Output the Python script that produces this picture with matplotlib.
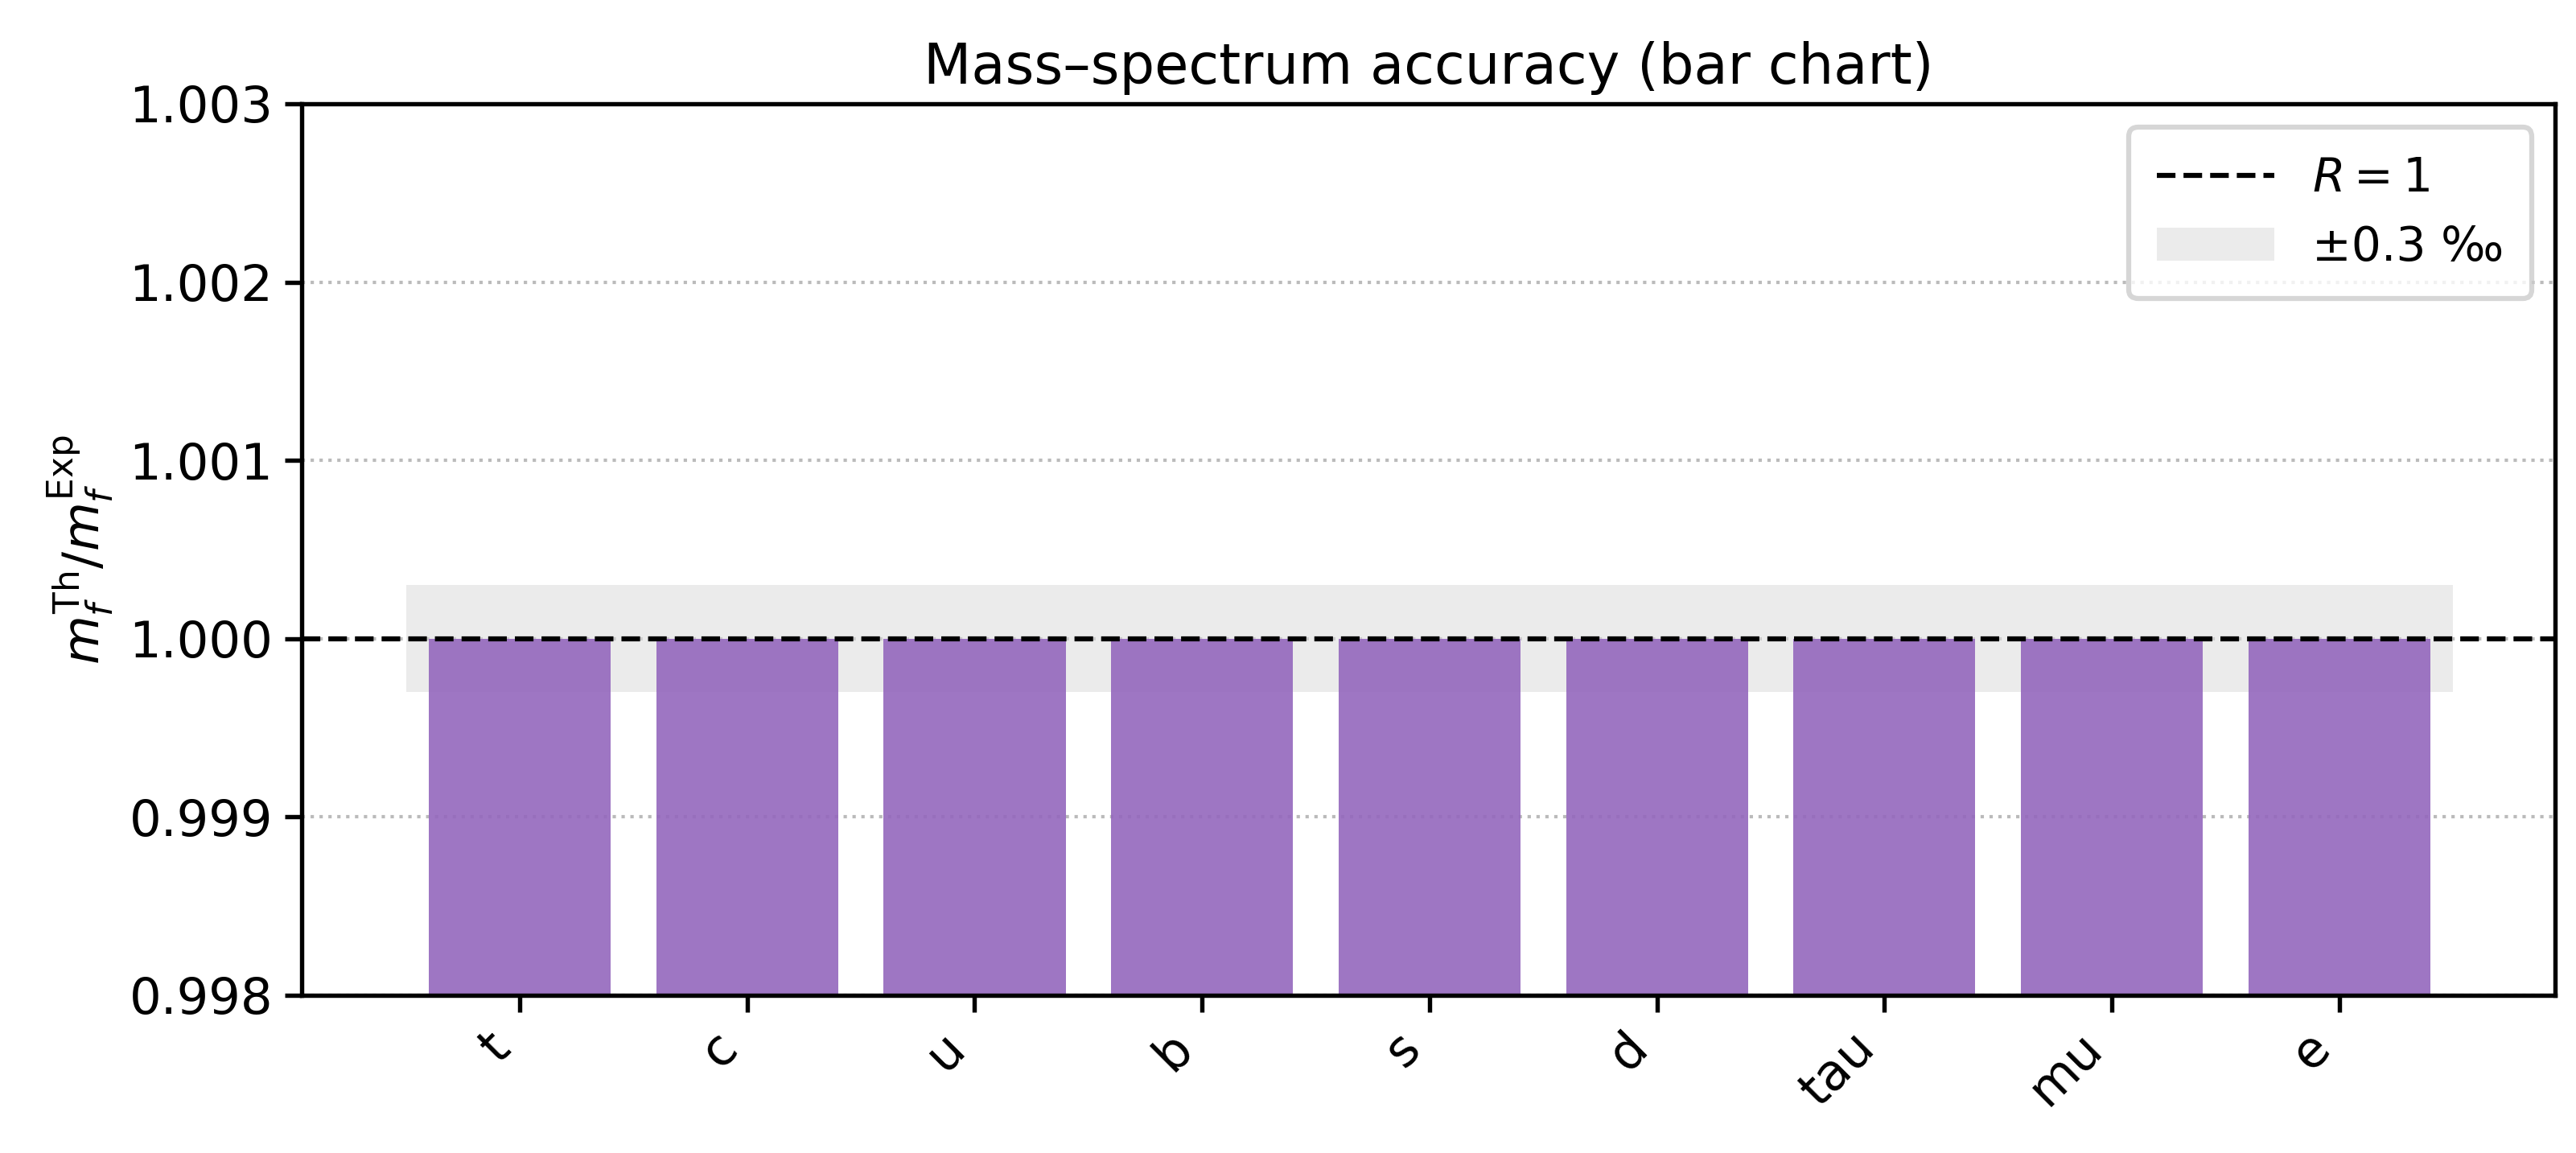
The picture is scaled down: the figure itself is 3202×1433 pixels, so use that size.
import matplotlib
matplotlib.use("Agg")
import matplotlib.pyplot as plt

categories = ["t", "c", "u", "b", "s", "d", "tau", "mu", "e"]
ratios = [1.0000, 1.0000, 1.0000, 1.0000, 1.0000, 1.0000, 1.0000, 1.0000, 1.0000]
tol = 0.0003

fig = plt.figure(figsize=(3202/300, 1433/300), dpi=300)
ax = fig.add_axes([0.117, 0.137, 0.875, 0.773])
x = list(range(len(categories)))
ax.axhline(1.0, color="black", ls="--", lw=1.5, label="$R = 1$", zorder=3)
ax.fill_between([-0.5, len(categories)-0.5], 1-tol, 1+tol, color="#d9d9d9", alpha=0.5, lw=0, label="±0.3 ‰", zorder=1)
ax.bar(x, ratios, width=0.8, color="#9467bd", alpha=0.9, zorder=2)
ax.set_ylim(0.998, 1.003)
ax.set_xlim(-0.96, 8.95)
ax.set_yticks([0.998, 0.999, 1.000, 1.001, 1.002, 1.003])
ax.set_yticklabels(["0.998", "0.999", "1.000", "1.001", "1.002", "1.003"])
ax.yaxis.grid(True, ls=":", color="#bbbbbb", lw=1.0)
ax.set_axisbelow(True)
for s in ax.spines.values():
    s.set_linewidth(1.3)
ax.tick_params(width=1.3, length=5)
ax.set_xticks(x)
ax.set_xticklabels(categories, rotation=45, ha="right", fontsize=15)
ax.tick_params(axis="y", labelsize=15)
ax.set_ylabel(r"$m_f^{\mathrm{Th}}/m_f^{\mathrm{Exp}}$", fontsize=15)
ax.set_title("Mass–spectrum accuracy (bar chart)", fontsize=16.5)
ax.legend(loc="upper right", fontsize=14, handlelength=2.5, borderpad=0.6,
          framealpha=0.8, edgecolor="#cccccc").get_frame().set_linewidth(1.5)
fig.savefig("out.png", dpi=300)
